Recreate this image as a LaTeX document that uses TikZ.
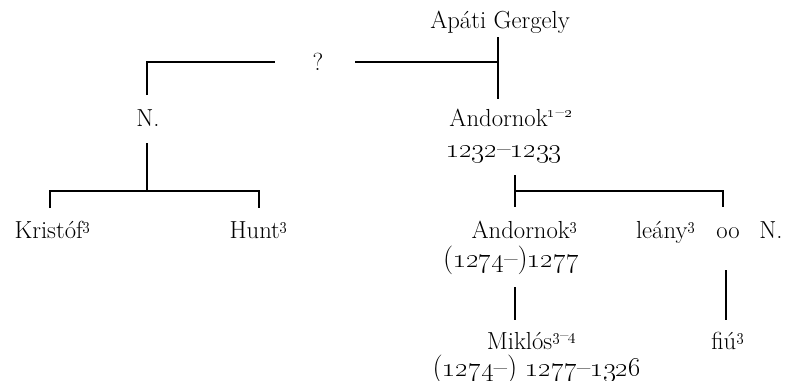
\documentclass[tikz,border=0pt]{standalone}
\begin{document}
\begin{tikzpicture}[x=0.75pt,y=-0.75pt,line width=1.1pt,
  lbl/.style={anchor=base,inner sep=0pt,font=\fontsize{18.5}{22}\selectfont},
  yr/.style={lbl,font=\fontsize{21.5}{24}\selectfont}]
 \useasboundingbox (0,0) rectangle (791,380);
 \node[lbl] (gergely) at (500,28) {Apáti Gergely};
 \node[lbl] (q) at (318,70) {?};
 \node[lbl] (nleft) at (148,126) {N.};
 \node[lbl] (andornokA) at (511,126) {Andornok\textsuperscript{\oldstylenums{1}--\oldstylenums{2}}};
 \node[yr] (dateA) at (504,157) {\oldstylenums{1232}--\oldstylenums{1233}};
 \node[lbl] (kristof) at (53,238) {Kristóf\textsuperscript{\oldstylenums{3}}};
 \node[lbl] (hunt) at (259,238) {Hunt\textsuperscript{\oldstylenums{3}}};
 \node[lbl] (andornokB) at (525,238) {Andornok\textsuperscript{\oldstylenums{3}}};
 \node[yr] (dateB) at (511,267) {(\oldstylenums{1274}--)\oldstylenums{1277}};
 \node[lbl] (leany) at (666,238) {leány\textsuperscript{\oldstylenums{3}}};
 \node[lbl] (oo) at (728,238) {oo};
 \node[lbl] (nright) at (771,238) {N.};
 \node[lbl] (miklos) at (532,349) {Miklós\textsuperscript{\oldstylenums{3}--\oldstylenums{4}}};
 \node[yr] (dateC) at (537,376) {(\oldstylenums{1274}--) \oldstylenums{1277}--\oldstylenums{1326}};
 \node[lbl] (fiu) at (728,349) {fiú\textsuperscript{\oldstylenums{3}}};
 \coordinate (gtop) at (498,37);
 \coordinate (gmid) at (498,62);
 \coordinate (gbot) at (498,99);
 \coordinate (qright) at (355,62);
 \coordinate (qleft) at (275,62);
 \coordinate (ntop) at (147,95);
 \coordinate (nbot) at (147,143);
 \coordinate (nfork) at (147,191);
 \coordinate (kr) at (50,208);
 \coordinate (hu) at (259,208);
 \coordinate (atop) at (515,175);
 \coordinate (afork) at (515,191);
 \coordinate (abot) at (515,207);
 \coordinate (lbot) at (723,207);
 \coordinate (mtop) at (515,287);
 \coordinate (mbot) at (515,320);
 \coordinate (ftop) at (726,270);
 \coordinate (fbot) at (726,320);
 \draw (gtop) -- (gbot);
 \draw (qright) -- (gmid);
 \draw (ntop) |- (qleft);
 \draw (nbot) -- (nfork);
 \draw (kr) |- (nfork) -| (hu);
 \draw (atop) -- (abot);
 \draw (afork) -| (lbot);
 \draw (mtop) -- (mbot);
 \draw (ftop) -- (fbot);
\end{tikzpicture}
\end{document}
